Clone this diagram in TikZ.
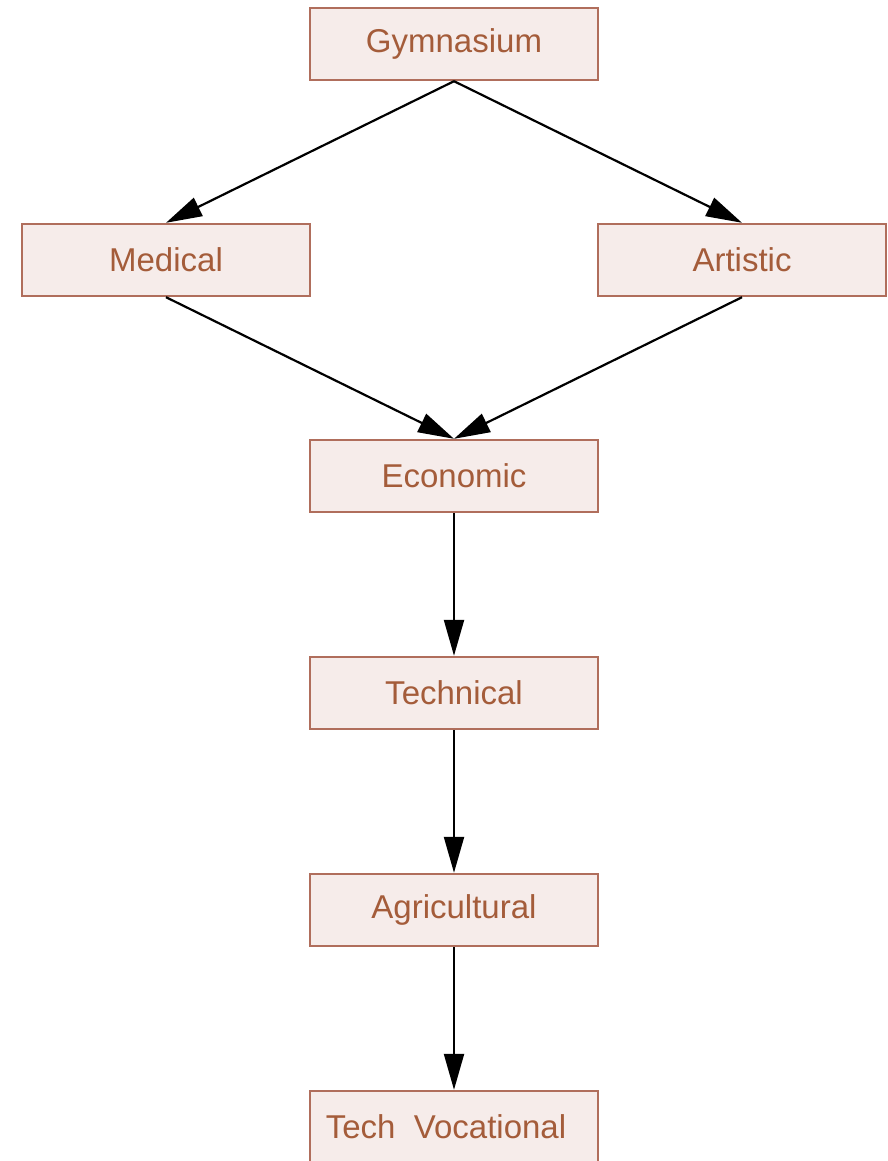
\documentclass[tikz,border=0pt]{standalone}
\usepackage{fontspec}
\setmainfont{Liberation Sans}
\usepackage{tikz}
\usetikzlibrary{positioning, arrows.meta}

\definecolor{boxline}{HTML}{B06E5C}
\definecolor{boxfill}{HTML}{F6ECEA}
\definecolor{boxtext}{HTML}{A45C3A}

\begin{document}
\begin{tikzpicture}[
        x=1pt, y=-1pt,
        school/.style = {draw=boxline, fill=boxfill, line width=2.4pt, text=boxtext,
                         minimum width=288pt, minimum height=72pt, inner sep=0pt,
                         font=\fontsize{33}{38}\selectfont},
        flow/.style = {line width=2.2pt, -{Triangle[length=36pt,width=20pt]}},
        ]
        \useasboundingbox (0,0) rectangle (887,1161);
        \node[school] (gym) at (454,44) {Gymnasium};
        \node[school] (med) at (166,260) {Medical};
        \node[school] (art) at (742,260) {Artistic};
        \node[school] (eco) at (454,476) {Economic};
        \node[school] (tec) at (454,693) {Technical};
        \node[school] (agr) at (454,910) {Agricultural};
        \node[school] (voc) at (454,1127) {\hspace*{-16pt}Tech\ \ Vocational};

        \draw[flow] (gym.south) -- (med.north);
        \draw[flow] (gym.south) -- (art.north);
        \draw[flow] (med.south) -- (eco.north);
        \draw[flow] (art.south) -- (eco.north);
        \draw[flow] (eco) -- (tec);
        \draw[flow] (tec) -- (agr);
        \draw[flow] (agr) -- (voc);
    \end{tikzpicture}
\end{document}
